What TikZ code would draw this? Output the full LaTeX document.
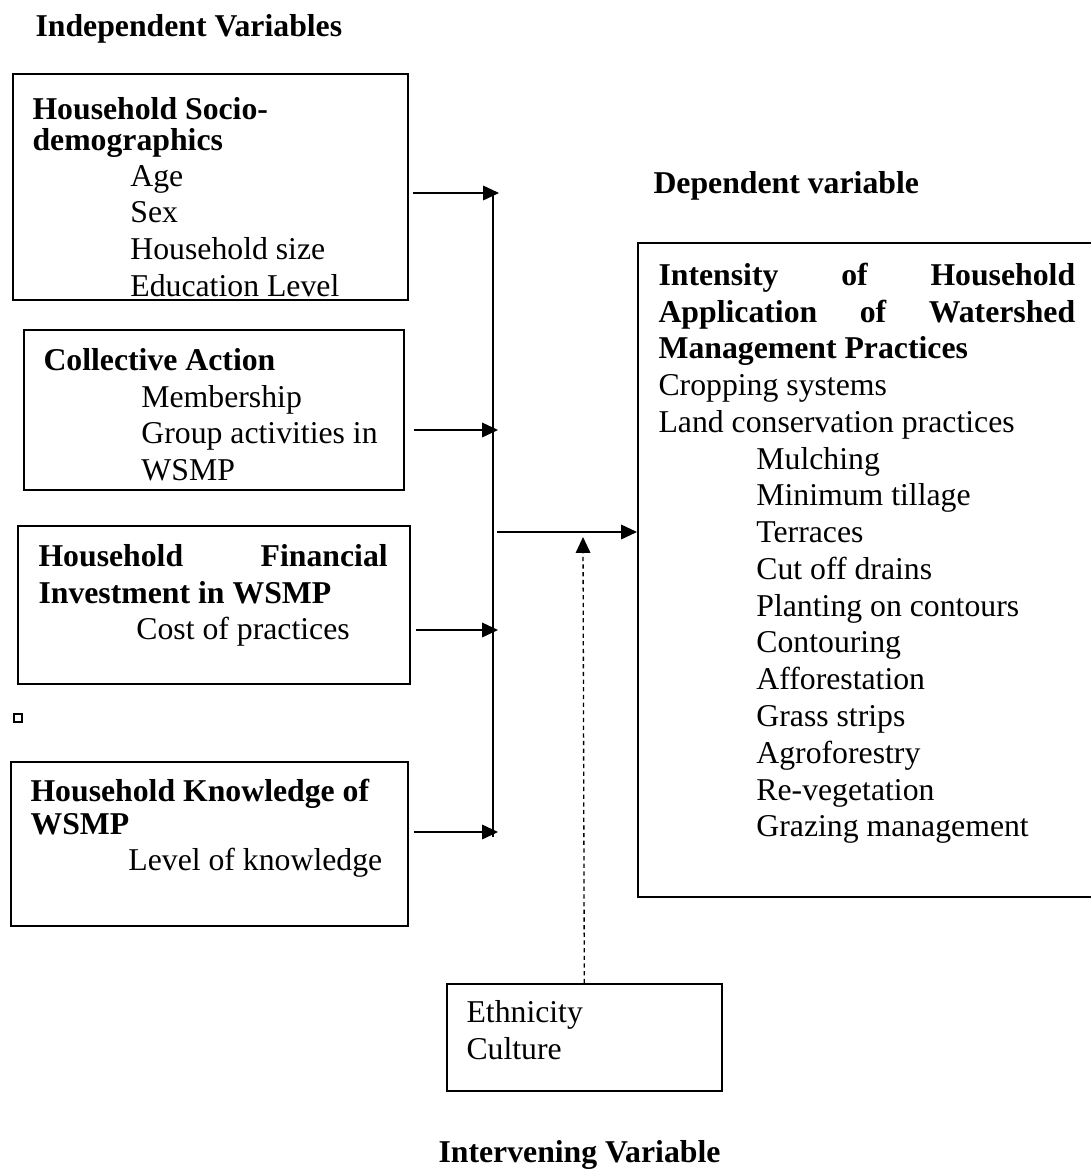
\documentclass[tikz,border=0pt]{standalone}
\usepackage{fontspec}
\setmainfont{Liberation Serif}
\usetikzlibrary{arrows.meta,calc}

\newcommand\tabin{\hspace*{37pt}}

\begin{document}
\begin{tikzpicture}[x=0.378pt, y=-0.378pt,
  varbox/.style={draw, line width=0.6pt, anchor=north west, inner sep=0pt},
  boxsize/.style 2 args={minimum width=#1*0.378pt, minimum height=#2*0.378pt},
  vartxt/.style={anchor=north west, inner sep=0pt, align=left, font=\fontsize{12}{13.9}\selectfont},
  heading/.style={anchor=base west, inner sep=0pt, font=\fontsize{12}{14}\selectfont\bfseries},
  flow/.style={-{Triangle[length=6pt,width=5.5pt]}, line width=0.6pt}]
\useasboundingbox (0,0) rectangle (1091,1171);

% Headings
\node[heading] (indep) at (35,37) {Independent Variables};
\node[heading] (dep) at (653,193) {Dependent variable};
\node[heading] (interv) at (438,1162) {Intervening Variable};

% Independent variables
\node[varbox, boxsize={395}{226}] (socio) at (12,73) {};
\node[vartxt] (sociotxt) at (32,93) {\strut\textbf{Household Socio-}\\[-2pt]\textbf{demographics}\\[-0.5pt]\tabin Age\\\tabin Sex\\\tabin Household size\\\tabin Education Level};

\node[varbox, boxsize={380}{160}] (collective) at (23,329) {};
\node[vartxt] (colltxt) at (43,344) {\strut\textbf{Collective Action}\\\tabin Membership\\\tabin Group activities in\\\tabin WSMP};

\node[varbox, boxsize={392}{158}] (financial) at (17,525) {};
\node[vartxt] (fintxt) at (38,540) {\strut\makebox[132pt][s]{\bfseries Household Financial}\\\textbf{Investment in WSMP}\\\tabin Cost of practices};

\node[draw, line width=0.6pt, boxsize={8}{8}, inner sep=0pt] (stray) at (18,718) {};

\node[varbox, boxsize={397}{164}] (knowledge) at (10,761) {};
\node[vartxt] (knowtxt) at (30,775) {\strut\textbf{Household Knowledge of}\\[-1.5pt]\textbf{WSMP}\\\tabin Level of knowledge};

% Dependent variable
\node[varbox, boxsize={470}{654}] (depbox) at (637,242) {};
\node[vartxt] (deptxt) at (658,259) {\strut\makebox[157.5pt][s]{\bfseries Intensity of Household}\\
  \makebox[157.5pt][s]{\bfseries Application of Watershed}\\
  \textbf{Management Practices}\\
  Cropping systems\\
  Land conservation practices\\
  \tabin Mulching\\
  \tabin Minimum tillage\\
  \tabin Terraces\\
  \tabin Cut off drains\\
  \tabin Planting on contours\\
  \tabin Contouring\\
  \tabin Afforestation\\
  \tabin Grass strips\\
  \tabin Agroforestry\\
  \tabin Re-vegetation\\
  \tabin Grazing management};

% Intervening variable
\node[varbox, boxsize={275}{107}] (interbox) at (446,983) {};
\node[vartxt] (intertxt) at (466,996) {\strut Ethnicity\\Culture};

% Connectors
\coordinate (bustop) at (493,193);
\coordinate (busbot) at (493,837);
\coordinate (in1) at (499,193);
\coordinate (in2) at (498,430);
\coordinate (in3) at (498,630);
\coordinate (in4) at (498,832);
\coordinate (busout) at (497,532);
\coordinate (dashend) at (583,537);

\draw[line width=0.6pt] (bustop) -- (busbot);
\draw[flow] ($(socio.east |- in1)+(4,0)$) -- (in1);
\draw[flow] ($(collective.east |- in2)+(9,0)$) -- (in2);
\draw[flow] ($(financial.east |- in3)+(5,0)$) -- (in3);
\draw[flow] ($(knowledge.east |- in4)+(5,0)$) -- (in4);
\draw[flow] (busout) -- (depbox.west |- busout);
\draw[flow, line width=0.5pt, dash pattern=on 1.6pt off 1.3pt] (interbox.north) -- (dashend);

\end{tikzpicture}
\end{document}
